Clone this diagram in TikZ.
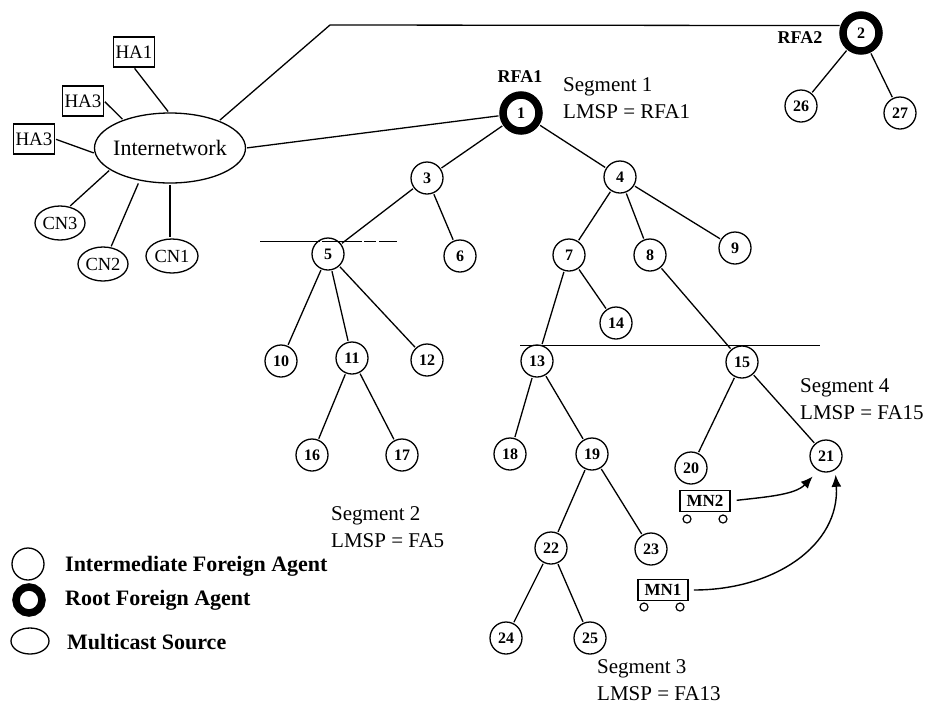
\documentclass[tikz,border=0pt]{standalone}
\usepackage{fontspec}
\setmainfont{Liberation Serif}
\usetikzlibrary{arrows.meta, shapes.geometric}
\tikzset{
  fa/.style={circle, draw, line width=1.3pt, minimum size=32pt, inner sep=0pt, font=\fontsize{16}{16}\selectfont\bfseries},
  rfa/.style={fa, line width=7.5pt, minimum size=36pt},
  mcast/.style={ellipse, draw, line width=1.3pt, inner sep=0pt, font=\fontsize{18.5}{18.5}\selectfont},
  ha/.style={rectangle, draw, line width=1.2pt, minimum width=41pt, minimum height=30pt, inner sep=0pt, font=\fontsize{19}{19}\selectfont},
  mn/.style={rectangle, draw, line width=1.5pt, minimum width=50pt, minimum height=21pt, inner sep=0pt, font=\fontsize{17}{17}\selectfont\bfseries},
  wheel/.style={circle, draw, line width=1.2pt, minimum size=8pt, inner sep=0pt},
  link/.style={line width=1.3pt, shorten >=1pt, shorten <=1pt},
  seg/.style={anchor=west, align=left, inner sep=0pt, font=\fontsize{21}{26.5}\selectfont},
  legend/.style={anchor=west, inner sep=0pt, font=\fontsize{22}{22}\selectfont\bfseries},
  tag/.style={inner sep=0pt, font=\fontsize{18}{18}\selectfont\bfseries},
}
\begin{document}
\begin{tikzpicture}[x=1pt, y=-1pt]
  \useasboundingbox (0,0) rectangle (934,705);
  % tree of foreign agents
  \node[rfa] (n1) at (521,113) {1};
  \node[rfa] (n2) at (861,33) {2};
  \foreach \n/\x/\y in {3/427/178, 4/620/177, 5/328/254, 6/460/256, 7/569/255, 8/650/255,
      9/735/248, 10/281/361, 11/352/358, 12/427/360, 13/537/361, 14/616/323, 15/742/362,
      16/312/455, 17/402/455, 18/510/454, 19/592/454, 20/691/468, 21/826/456, 22/551/548,
      23/651/549, 24/506/638, 25/590/638, 26/801/106, 27/900/113}
    \node[fa] (n\n) at (\x,\y) {\n};
  \foreach \a/\b in {1/3, 1/4, 2/26, 2/27, 3/5, 3/6, 4/7, 4/8, 4/9, 5/10, 5/11, 5/12, 7/13, 7/14,
      8/15, 11/16, 11/17, 13/18, 13/19, 15/20, 15/21, 19/22, 19/23, 22/24, 22/25}
    \draw[link] (n\a) -- (n\b);
  % internetwork and its hosts
  \node[mcast, minimum width=151pt, minimum height=70pt, label={[font=\fontsize{22}{22}\selectfont]center:Internetwork}] (inet) at (170,148) {};
  \node[ha] (ha1) at (134,52) {HA1};
  \node[ha] (ha2) at (83,101) {HA3};
  \node[ha] (ha3) at (34,139) {HA3};
  \node[mcast, minimum width=50pt, minimum height=34pt] (cn3) at (60,223) {CN3};
  \node[mcast, minimum width=50pt, minimum height=34pt] (cn2) at (103,264) {CN2};
  \node[mcast, minimum width=52pt, minimum height=34pt] (cn1) at (172,256) {CN1};
  \draw[link] (ha1.south) -- (inet.92);
  \draw[link] (ha2.east) -- (inet.149);
  \draw[link] (ha3.east) -- (inet.184);
  \draw[link] (cn3.60) -- (inet.200);
  \draw[link, shorten >=3pt] (cn2.65) -- (inet.227);
  \draw[link] (inet.south) -- (inet.south |- cn1.north);
  \coordinate (bend) at (330,25);
  \draw[link] (inet.29) -- (bend) -- (n2.160);
  \draw[link] (inet.east) -- (n1);
  % segment borders
  \coordinate (borderAl) at (260,241);
  \coordinate (borderAr) at (397,241);
  \coordinate (borderBl) at (520,345);
  \coordinate (borderBr) at (820,345);
  \draw[line width=0.9pt, dash pattern=on 60pt off 2pt on 40pt off 2pt on 12pt off 3pt] (borderAl) -- (borderAr);
  \draw[line width=1pt] (borderBl) -- (borderBr);
  % labels
  \node[tag] (rfa1) at (520,77) {RFA1};
  \node[tag] (rfa2) at (800,38) {RFA2};
  \node[seg] (seg1) at (563,98) {Segment 1\\LMSP = RFA1};
  \node[seg] (seg2) at (331,527) {Segment 2\\LMSP = FA5};
  \node[seg] (seg3) at (597,680) {Segment 3\\LMSP = FA13};
  \node[seg] (seg4) at (800,399) {Segment 4\\LMSP = FA15};
  % mobile nodes
  \node[mn] (mn2) at (705,501) {MN2};
  \node[wheel] (mn2a) at (687,519) {};
  \node[wheel] (mn2b) at (723,519) {};
  \node[mn] (mn1) at (663,590) {MN1};
  \node[wheel] (mn1a) at (644,607) {};
  \node[wheel] (mn1b) at (680,607) {};
  \draw[line width=1.4pt, -{Latex[length=12pt, width=10pt]}, shorten <=6pt, shorten >=8pt]
    (mn2.east) .. controls (765,497) and (795,495) .. (n21.242);
  \draw[line width=1.4pt, -{Latex[length=12pt, width=10pt]}, shorten <=5pt, shorten >=5pt]
    (mn1.east) .. controls (775,590) and (840,545) .. (n21.304);
  % legend
  \node[fa] (leg1) at (28,564) {};
  \node[rfa, minimum size=26pt] (leg2) at (29,600) {};
  \node[mcast, minimum width=38pt, minimum height=26pt] (leg3) at (30,641) {};
  \node[legend] (txt1) at (65,566) {Intermediate Foreign Agent};
  \node[legend] (txt2) at (65,600) {Root Foreign Agent};
  \node[legend] (txt3) at (67,642) {Multicast Source};
\end{tikzpicture}
\end{document}
